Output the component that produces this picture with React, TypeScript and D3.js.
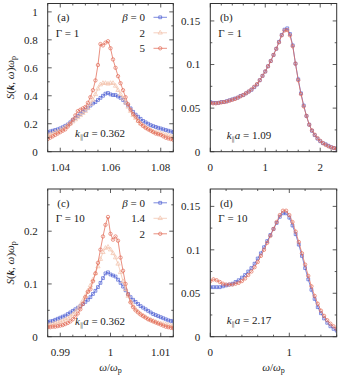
import React from "react";
import * as d3 from "d3";

const FONT = "Liberation Serif, DejaVu Serif, serif";
const INK = "#222";
const BLUE = "#5163d4";
const PALE = "#f2c2ab";
const RED = "#e26b57";

// (a) Gamma = 1, k a = 0.362
const omegaA = [1.035, 1.036, 1.037, 1.038, 1.039, 1.04, 1.041, 1.042, 1.043, 1.044, 1.045, 1.046, 1.047, 1.048, 1.049, 1.05, 1.051, 1.052, 1.053, 1.054, 1.055, 1.056, 1.057, 1.058, 1.059, 1.06, 1.061, 1.062, 1.063, 1.064, 1.065, 1.066, 1.067, 1.068, 1.069, 1.07, 1.071, 1.072, 1.073, 1.074, 1.075, 1.076, 1.077, 1.078, 1.079, 1.08, 1.081, 1.082, 1.083, 1.084, 1.085];
const sA0 = [0.14, 0.145, 0.15, 0.155, 0.16, 0.167, 0.175, 0.185, 0.195, 0.21, 0.225, 0.24, 0.255, 0.27, 0.285, 0.3, 0.315, 0.33, 0.345, 0.355, 0.37, 0.385, 0.4, 0.415, 0.42, 0.41, 0.405, 0.405, 0.395, 0.385, 0.37, 0.35, 0.33, 0.31, 0.285, 0.265, 0.25, 0.235, 0.22, 0.21, 0.2, 0.19, 0.183, 0.177, 0.171, 0.166, 0.16, 0.155, 0.15, 0.145, 0.14];
const sA2 = [0.12, 0.125, 0.13, 0.14, 0.145, 0.155, 0.165, 0.175, 0.19, 0.2, 0.215, 0.23, 0.245, 0.26, 0.275, 0.29, 0.31, 0.34, 0.37, 0.41, 0.45, 0.48, 0.49, 0.49, 0.485, 0.49, 0.49, 0.47, 0.44, 0.41, 0.38, 0.35, 0.32, 0.29, 0.26, 0.24, 0.22, 0.2, 0.185, 0.175, 0.165, 0.155, 0.145, 0.14, 0.135, 0.13, 0.125, 0.12, 0.115, 0.11, 0.105];
const sA5 = [0.09, 0.1, 0.11, 0.12, 0.13, 0.14, 0.15, 0.16, 0.18, 0.2, 0.23, 0.26, 0.29, 0.3, 0.31, 0.32, 0.35, 0.39, 0.44, 0.51, 0.62, 0.77, 0.76, 0.78, 0.79, 0.74, 0.66, 0.6, 0.54, 0.49, 0.44, 0.39, 0.34, 0.3, 0.27, 0.25, 0.22, 0.2, 0.185, 0.17, 0.16, 0.15, 0.14, 0.13, 0.125, 0.12, 0.11, 0.1, 0.095, 0.09, 0.085];

// (b) Gamma = 1, k a = 1.09
const omegaB = [0, 0.05, 0.1, 0.15, 0.2, 0.25, 0.3, 0.35, 0.4, 0.45, 0.5, 0.55, 0.6, 0.65, 0.7, 0.75, 0.8, 0.85, 0.9, 0.95, 1, 1.05, 1.1, 1.15, 1.2, 1.25, 1.3, 1.35, 1.4, 1.45, 1.5, 1.55, 1.6, 1.65, 1.7, 1.75, 1.8, 1.85, 1.9, 1.95, 2, 2.05, 2.1, 2.15, 2.2, 2.25, 2.3];
const sB0 = [0.057, 0.056, 0.056, 0.056, 0.057, 0.057, 0.058, 0.059, 0.06, 0.061, 0.062, 0.064, 0.065, 0.067, 0.069, 0.071, 0.074, 0.077, 0.082, 0.087, 0.092, 0.098, 0.104, 0.111, 0.118, 0.126, 0.134, 0.14, 0.1415, 0.135, 0.122, 0.101, 0.083, 0.067, 0.053, 0.041, 0.031, 0.024, 0.019, 0.015, 0.012, 0.0098, 0.0085, 0.0068, 0.0052, 0.0042, 0.0034];
const sB5 = [0.056, 0.0555, 0.0555, 0.056, 0.0565, 0.057, 0.0575, 0.0585, 0.0595, 0.0605, 0.062, 0.0635, 0.065, 0.067, 0.069, 0.0715, 0.0745, 0.0775, 0.082, 0.087, 0.092, 0.098, 0.104, 0.111, 0.118, 0.1255, 0.1335, 0.139, 0.1395, 0.1335, 0.121, 0.101, 0.082, 0.066, 0.052, 0.041, 0.031, 0.0245, 0.0195, 0.0155, 0.0125, 0.0098, 0.0078, 0.0062, 0.005, 0.0042, 0.0035];

// (c) Gamma = 10, k a = 0.362
const omegaC = [0.9875, 0.988, 0.9885, 0.989, 0.9895, 0.99, 0.9905, 0.991, 0.9915, 0.992, 0.9925, 0.993, 0.9935, 0.994, 0.9945, 0.995, 0.9955, 0.996, 0.9965, 0.997, 0.9975, 0.998, 0.9985, 0.999, 0.9995, 1, 1.0005, 1.001, 1.0015, 1.002, 1.0025, 1.003, 1.0035, 1.004, 1.0045, 1.005, 1.0055, 1.006, 1.0065, 1.007, 1.0075, 1.008, 1.0085, 1.009, 1.0095, 1.01, 1.0105, 1.011, 1.0115, 1.012, 1.0125];
const sC0 = [0.028, 0.029, 0.03, 0.032, 0.034, 0.036, 0.038, 0.04, 0.043, 0.046, 0.049, 0.052, 0.055, 0.058, 0.062, 0.066, 0.07, 0.075, 0.081, 0.087, 0.094, 0.102, 0.111, 0.12, 0.122, 0.118, 0.116, 0.114, 0.108, 0.102, 0.095, 0.088, 0.081, 0.075, 0.07, 0.066, 0.062, 0.058, 0.055, 0.052, 0.049, 0.046, 0.043, 0.041, 0.039, 0.037, 0.035, 0.033, 0.031, 0.03, 0.029];
const sC14 = [0.022, 0.023, 0.024, 0.025, 0.027, 0.028, 0.03, 0.032, 0.035, 0.038, 0.042, 0.047, 0.053, 0.06, 0.068, 0.077, 0.087, 0.097, 0.108, 0.12, 0.133, 0.147, 0.16, 0.168, 0.17, 0.165, 0.158, 0.15, 0.138, 0.122, 0.105, 0.09, 0.077, 0.067, 0.059, 0.052, 0.047, 0.043, 0.04, 0.037, 0.034, 0.032, 0.03, 0.028, 0.026, 0.025, 0.024, 0.023, 0.022, 0.021, 0.02];
const sC2 = [0.018, 0.018, 0.019, 0.019, 0.02, 0.021, 0.022, 0.024, 0.026, 0.029, 0.033, 0.038, 0.044, 0.052, 0.062, 0.075, 0.085, 0.09, 0.105, 0.12, 0.14, 0.165, 0.19, 0.212, 0.227, 0.195, 0.184, 0.19, 0.182, 0.15, 0.125, 0.1, 0.08, 0.065, 0.056, 0.05, 0.046, 0.042, 0.039, 0.036, 0.033, 0.031, 0.029, 0.027, 0.025, 0.023, 0.021, 0.019, 0.018, 0.017, 0.016];

// (d) Gamma = 10, k a = 2.17
const omegaD = [0, 0.04, 0.08, 0.12, 0.16, 0.2, 0.24, 0.28, 0.32, 0.36, 0.4, 0.44, 0.48, 0.52, 0.56, 0.6, 0.64, 0.68, 0.72, 0.76, 0.8, 0.84, 0.88, 0.92, 0.96, 1, 1.04, 1.08, 1.12, 1.16, 1.2, 1.24, 1.28, 1.32, 1.36, 1.4, 1.44, 1.48, 1.52, 1.56, 1.6];
const sD0 = [0.057, 0.057, 0.057, 0.057, 0.058, 0.059, 0.06, 0.061, 0.063, 0.065, 0.068, 0.071, 0.075, 0.079, 0.084, 0.09, 0.096, 0.103, 0.11, 0.117, 0.124, 0.131, 0.138, 0.142, 0.142, 0.137, 0.128, 0.118, 0.106, 0.093, 0.079, 0.066, 0.054, 0.0435, 0.034, 0.027, 0.021, 0.016, 0.012, 0.009, 0.007];
const sD2 = [0.064, 0.066, 0.065, 0.063, 0.061, 0.06, 0.06, 0.06, 0.061, 0.062, 0.064, 0.067, 0.071, 0.075, 0.08, 0.086, 0.093, 0.1, 0.108, 0.116, 0.124, 0.132, 0.14, 0.145, 0.145, 0.14, 0.132, 0.121, 0.109, 0.096, 0.083, 0.07, 0.058, 0.047, 0.038, 0.03, 0.024, 0.019, 0.015, 0.012, 0.009];

const legendA = ["0", "2", "5"];
const legendC = ["0", "1.4", "2"];

type Series = { w: number[]; s: number[]; color: string; mark: d3.SymbolType; size: number };
type Cfg = {
  id: string;
  left: number; right: number; top: number; bottom: number;
  xd: [number, number]; yd: [number, number];
  xt: number[]; yt: number[]; xm: number; ym: number;
  series: Series[];
  tag: string; gamma: string; ka: string; kaX: number; kaY: number;
  legend?: string[];
};

const sq = (w: number[], s: number[]): Series => ({ w, s, color: BLUE, mark: d3.symbolSquare, size: 8 });
const tri = (w: number[], s: number[]): Series => ({ w, s, color: PALE, mark: d3.symbolTriangle, size: 8 });
const circ = (w: number[], s: number[]): Series => ({ w, s, color: RED, mark: d3.symbolCircle, size: 9 });

const L1 = 47.7, R1 = 173.3, L2 = 210.3, R2 = 336.7;
const T1 = 3.5, B1 = 151.7, T2 = 189, B2 = 336.7;

const panels: Cfg[] = [
  { id: "a", left: L1, right: R1, top: T1, bottom: B1, xd: [1.035, 1.085], yd: [0, 1.06],
    xt: [1.04, 1.06, 1.08], yt: [0, 0.2, 0.4, 0.6, 0.8, 1], xm: 0.005, ym: 0.1,
    series: [sq(omegaA, sA0), tri(omegaA, sA2), circ(omegaA, sA5)],
    tag: "(a)", gamma: "1", ka: "0.362", kaX: 27.3, kaY: 14.7, legend: legendA },
  { id: "b", left: L2, right: R2, top: T1, bottom: B1, xd: [0, 2.3], yd: [0, 0.17],
    xt: [0, 1, 2], yt: [0, 0.05, 0.1, 0.15], xm: 0.2, ym: 0.025,
    series: [sq(omegaB, sB0), circ(omegaB, sB5)],
    tag: "(b)", gamma: "1", ka: "1.09", kaX: 16.4, kaY: 12.7 },
  { id: "c", left: L1, right: R1, top: T2, bottom: B2, xd: [0.9875, 1.0125], yd: [0, 0.28],
    xt: [0.99, 1, 1.01], yt: [0, 0.1, 0.2], xm: 0.0025, ym: 0.05,
    series: [sq(omegaC, sC0), tri(omegaC, sC14), circ(omegaC, sC2)],
    tag: "(c)", gamma: "10", ka: "0.362", kaX: 27.3, kaY: 11.5, legend: legendC },
  { id: "d", left: L2, right: R2, top: T2, bottom: B2, xd: [0, 1.6], yd: [0, 0.17],
    xt: [0, 1], yt: [0, 0.05, 0.1, 0.15], xm: 0.2, ym: 0.025,
    series: [sq(omegaD, sD0), circ(omegaD, sD2)],
    tag: "(d)", gamma: "10", ka: "2.17", kaX: 16.4, kaY: 12.7 },
];

function minors(d: [number, number], step: number, majors: number[]) {
  const out: number[] = [];
  const k0 = Math.ceil(d[0] / step - 1e-6), k1 = Math.floor(d[1] / step + 1e-6);
  for (let k = k0; k <= k1; k++) {
    const v = k * step;
    if (!majors.some((m) => Math.abs(m - v) < step * 1e-3)) out.push(v);
  }
  return out;
}

function Panel({ c }: { c: Cfg }) {
  const x = d3.scaleLinear().domain(c.xd).range([c.left, c.right]);
  const y = d3.scaleLinear().domain(c.yd).range([c.bottom, c.top]);
  const line = d3.line<[number, number]>().x((d) => x(d[0])).y((d) => y(d[1]));
  const xMin = minors(c.xd, c.xm, c.xt);
  const yMin = minors(c.yd, c.ym, c.yt);
  const tickEls: React.ReactElement[] = [];
  const addX = (v: number, len: number, k: string) => {
    tickEls.push(<line key={"xb" + k} x1={x(v)} x2={x(v)} y1={c.bottom} y2={c.bottom - len} />);
    tickEls.push(<line key={"xt" + k} x1={x(v)} x2={x(v)} y1={c.top} y2={c.top + len} />);
  };
  const addY = (v: number, len: number, k: string) => {
    tickEls.push(<line key={"yl" + k} x1={c.left} x2={c.left + len} y1={y(v)} y2={y(v)} />);
    tickEls.push(<line key={"yr" + k} x1={c.right} x2={c.right - len} y1={y(v)} y2={y(v)} />);
  };
  c.xt.forEach((v, i) => addX(v, 4, "M" + i));
  xMin.forEach((v, i) => addX(v, 2, "m" + i));
  c.yt.forEach((v, i) => addY(v, 4, "M" + i));
  yMin.forEach((v, i) => addY(v, 2, "m" + i));

  const lx = c.left + 97.3;
  return (
    <g>
      <defs>
        <clipPath id={"clip" + c.id}>
          <rect x={c.left} y={c.top} width={c.right - c.left} height={c.bottom - c.top} />
        </clipPath>
      </defs>
      <g clipPath={`url(#clip${c.id})`}>
        {c.series.map((s, si) => {
          const pts = s.w.map((w, i) => [w, s.s[i]] as [number, number]).filter((p) => p[1] !== undefined);
          const sym = d3.symbol().type(s.mark).size(s.size)()!;
          return (
            <g key={si}>
              <path d={line(pts)!} fill="none" stroke={s.color} strokeWidth={0.75} />
              {pts.map((p, i) => (
                <path key={i} d={sym} transform={`translate(${x(p[0])},${y(p[1])})`} fill="none" stroke={s.color} strokeWidth={0.7} />
              ))}
            </g>
          );
        })}
      </g>
      <g stroke="#333" strokeWidth={0.8}>{tickEls}</g>
      <rect x={c.left} y={c.top} width={c.right - c.left} height={c.bottom - c.top} fill="none" stroke="#333" strokeWidth={1} />
      <g style={{ fontFamily: FONT }} fontSize={11} fill={INK}>
        {c.xt.map((v, i) => (
          <text key={"xl" + i} x={x(v)} y={c.bottom + 19} textAnchor="middle">{String(v)}</text>
        ))}
        {c.yt.map((v, i) => (
          <text key={"yl" + i} x={c.left - 10} y={y(v) + 3.8} textAnchor="end">{String(v)}</text>
        ))}
        <text x={c.left + 9.6} y={c.top + 17.5}>{c.tag}</text>
        <text x={c.left + 8} y={c.top + 33}>Γ = {c.gamma}</text>
        <text x={c.left + c.kaX} y={c.bottom - c.kaY}>
          <tspan fontStyle="italic">k</tspan>
          <tspan fontSize={7} dy={2.5} fill="#777">∥</tspan>
          <tspan dy={-2.5} fontStyle="italic">a</tspan> = {c.ka}
        </text>
        {c.legend &&
          c.legend.map((lab, i) => {
            const ly = c.top + 17.5 + i * 15.5;
            const s = c.series[i];
            const sym = d3.symbol().type(s.mark).size(s.size)()!;
            return (
              <g key={"lg" + i}>
                <text x={lx} y={ly} textAnchor="end">
                  {i === 0 ? <tspan fontStyle="italic">β</tspan> : null}
                  {i === 0 ? " = " + lab : lab}
                </text>
                <line x1={lx + 8.5} x2={lx + 22} y1={ly - 3.7} y2={ly - 3.7} stroke={s.color} strokeWidth={0.75} />
                <path d={sym} transform={`translate(${lx + 15.2},${ly - 3.7})`} fill="none" stroke={s.color} strokeWidth={0.7} />
              </g>
            );
          })}
      </g>
    </g>
  );
}

function YLabel({ cy }: { cy: number }) {
  return (
    <text transform={`translate(13.5,${cy}) rotate(-90)`} textAnchor="middle" style={{ fontFamily: FONT }} fontSize={11} fill={INK}>
      <tspan fontStyle="italic">S</tspan>(<tspan fontStyle="italic" fontWeight="bold">k</tspan>, <tspan fontStyle="italic">ω</tspan>)<tspan fontStyle="italic">ω</tspan>
      <tspan fontSize={8} dy={2}>p</tspan>
    </text>
  );
}

function XLabel({ cx }: { cx: number }) {
  return (
    <text x={cx} y={371} textAnchor="middle" style={{ fontFamily: FONT }} fontSize={11} fill={INK}>
      <tspan fontStyle="italic">ω</tspan>/<tspan fontStyle="italic">ω</tspan>
      <tspan fontSize={8} dy={2}>p</tspan>
    </text>
  );
}

export default function App() {
  return (
    <svg width={339} height={378} style={{ position: "absolute", left: 0, top: 0, background: "#fff" }}>
      {panels.map((p) => (
        <Panel key={p.id} c={p} />
      ))}
      <YLabel cy={(T1 + B1) / 2} />
      <YLabel cy={(T2 + B2) / 2} />
      <XLabel cx={(L1 + R1) / 2} />
      <XLabel cx={(L2 + R2) / 2} />
    </svg>
  );
}
